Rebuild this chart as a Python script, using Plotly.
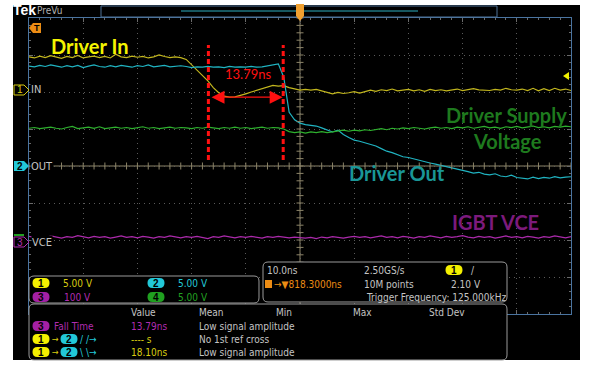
import plotly.graph_objects as go

W, H = 591, 368


def px(x):
    return x / W


def py(y):
    return 1 - y / H


# time base in ns (10 ns/div, trigger at the centre)
time_ns = [
    -50, -49, -48, -47, -46, -45, -44, -43, -42, -41,
    -40, -39, -38, -37, -36, -35, -34, -33, -32, -31,
    -30, -29, -28, -27, -26, -25, -24, -23, -22, -21,
    -20, -19, -18, -17, -16, -15, -14, -13, -12, -11,
    -10, -9, -8, -7, -6, -5, -4, -3, -2, -1,
    0, 1, 2, 3, 4, 5, 6, 7, 8, 9,
    10, 11, 12, 13, 14, 15, 16, 17, 18, 19,
    20, 21, 22, 23, 24, 25, 26, 27, 28, 29,
    30, 31, 32, 33, 34, 35, 36, 37, 38, 39,
    40, 41, 42, 43, 44, 45, 46, 47, 48, 49,
    50,
]

# screen positions in divisions (8 div vertical, centre = 0)
ch1_in = [
    2.95, 2.92, 2.97, 2.93, 2.98, 2.94, 2.91, 2.96, 2.93, 2.99,
    2.92, 2.95, 2.97, 2.93, 2.96, 2.92, 3.02, 2.95, 2.93, 2.97,
    2.94, 2.96, 2.92, 2.95, 3.00, 2.96, 2.93, 2.95, 2.93, 2.88,
    2.74, 2.60, 2.45, 2.30, 2.12, 1.98, 1.89, 1.86, 1.87, 1.90,
    1.95, 2.00, 2.05, 2.10, 2.14, 2.18, 2.16, 2.17, 2.12, 2.09,
    2.05, 2.07, 2.05, 2.07, 2.03, 1.99, 1.95, 1.99, 1.96, 1.98,
    2.01, 1.97, 2.01, 2.05, 2.02, 2.06, 2.04, 2.08, 2.03, 2.05,
    2.07, 2.03, 2.06, 2.02, 2.07, 2.04, 2.06, 2.03, 2.05, 2.08,
    2.04, 2.06, 2.09, 2.06, 2.05, 2.04, 2.07, 2.05, 2.10, 2.06,
    2.05, 2.08, 2.04, 2.10, 2.03, 2.09, 2.04, 2.10, 2.05, 2.08,
    2.04,
]
ch2_out = [
    2.70, 2.68, 2.72, 2.69, 2.73, 2.70, 2.67, 2.71, 2.68, 2.72,
    2.66, 2.70, 2.73, 2.69, 2.67, 2.71, 2.68, 2.72, 2.70, 2.67,
    2.71, 2.69, 2.73, 2.68, 2.70, 2.72, 2.68, 2.70, 2.71, 2.69,
    2.66, 2.68, 2.67, 2.69, 2.67, 2.68, 2.66, 2.69, 2.67, 2.68,
    2.67, 2.69, 2.67, 2.68, 2.70, 2.74, 2.76, 2.40, 1.45, 1.25,
    1.16, 1.12, 1.10, 1.08, 1.03, 0.98, 0.92, 0.97, 0.85, 0.77,
    0.70, 0.67, 0.63, 0.58, 0.54, 0.47, 0.40, 0.36, 0.30, 0.25,
    0.23, 0.19, 0.14, 0.11, 0.08, 0.05, 0.02, -0.01, -0.04, -0.07,
    -0.12, -0.15, -0.19, -0.17, -0.22, -0.24, -0.21, -0.27, -0.29, -0.25,
    -0.31, -0.33, -0.35, -0.30, -0.34, -0.31, -0.33, -0.29, -0.32, -0.30,
    -0.29,
]
ch4_supply = [
    1.02, 1.04, 1.01, 1.03, 1.05, 1.02, 1.00, 1.04, 1.07, 1.01,
    1.03, 1.05, 1.02, 1.06, 1.01, 1.03, 1.05, 1.02, 1.04, 1.01,
    1.03, 1.06, 1.02, 1.04, 1.01, 1.03, 1.05, 1.02, 1.04, 1.03,
    1.01, 1.04, 1.02, 1.05, 1.03, 1.01, 1.04, 1.02, 1.05, 1.02,
    1.04, 1.01, 1.03, 1.05, 1.02, 1.04, 1.03, 1.00, 0.93, 0.90,
    0.92, 0.89, 0.92, 0.90, 0.93, 0.90, 0.92, 0.95, 0.97, 0.94,
    0.97, 0.95, 0.98, 0.96, 0.99, 1.01, 0.98, 1.02, 1.00, 1.03,
    1.01, 1.04, 1.02, 1.00, 1.03, 1.05, 1.02, 1.04, 1.01, 1.05,
    1.03, 1.06, 1.02, 1.04, 1.07, 1.03, 1.05, 1.02, 1.06, 1.04,
    1.07, 1.03, 1.05, 1.08, 1.04, 1.06, 1.03, 1.07, 1.05, 1.08,
    1.06,
]
ch3_vce = [
    -1.90, -1.93, -1.91, -1.94, -1.89, -1.92, -1.95, -1.91, -1.93, -1.88,
    -1.92, -1.94, -1.90, -1.93, -1.91, -1.95, -1.92, -1.89, -1.93, -1.91,
    -1.94, -1.90, -1.92, -1.95, -1.91, -1.93, -1.89, -1.92, -1.94, -1.91,
    -1.93, -1.90, -1.92, -1.96, -1.91, -1.93, -1.89, -1.92, -1.94, -1.91,
    -1.93, -1.90, -1.92, -1.95, -1.91, -1.93, -1.90, -1.92, -1.94, -1.92,
    -1.93, -1.95, -1.93, -1.96, -1.92, -1.94, -1.91, -1.93, -1.95, -1.92,
    -1.90, -1.93, -1.91, -1.94, -1.92, -1.89, -1.93, -1.91, -1.94, -1.90,
    -1.92, -1.95, -1.91, -1.93, -1.89, -1.92, -1.94, -1.90, -1.93, -1.91,
    -1.88, -1.92, -1.94, -1.90, -1.93, -1.91, -1.95, -1.92, -1.89, -1.93,
    -1.91, -1.94, -1.90, -1.92, -1.95, -1.91, -1.93, -1.89, -1.92, -1.94,
    -1.91,
]

# cursor measurement drawn on the capture
cursor_t = [-16.9, -3.1]
cursor_text = "13.79ns"

UI = "DejaVu Sans Condensed, Liberation Sans Narrow, sans-serif"
UI_SIZE = 10
BIG = "Lato, Open Sans, sans-serif"
GRAY = "#c4c4c4"
YEL = "#d8cc10"
CYA = "#22c8d8"
MAG = "#b02cb0"
GRN = "#22a022"
ORG = "#ec8c14"

fig = go.Figure()

for vals, col in [(ch1_in, "#c2b61e"), (ch2_out, "#20b4c2"),
                  (ch4_supply, "#2eb02e"), (ch3_vce, "#ac2aac")]:
    fig.add_trace(go.Scatter(x=time_ns, y=vals, mode="lines",
                             line=dict(color=col, width=1.2),
                             hoverinfo="skip", showlegend=False))

# centre cross tick marks
tick_x = [-50 + 2 * i for i in range(51)]
tick_y = [-4 + 0.2 * i for i in range(41)]
fig.add_trace(go.Scatter(x=tick_x, y=[0] * len(tick_x), mode="markers",
                         marker=dict(symbol="line-ns", size=5, line=dict(color="#8c8468", width=1)),
                         hoverinfo="skip", showlegend=False))
fig.add_trace(go.Scatter(x=[0] * len(tick_y), y=tick_y, mode="markers",
                         marker=dict(symbol="line-ew", size=5, line=dict(color="#8c8468", width=1)),
                         hoverinfo="skip", showlegend=False))

shapes = []
ann = []


def poly(pts):
    return "M" + " L".join(f"{px(x):.5f},{py(y):.5f}" for x, y in pts) + " Z"


def rpath(x0, y0, x1, y1, r):
    p = lambda x, y: f"{px(x):.5f},{py(y):.5f}"
    return (f"M{p(x0 + r, y0)} L{p(x1 - r, y0)} Q{p(x1, y0)} {p(x1, y0 + r)} "
            f"L{p(x1, y1 - r)} Q{p(x1, y1)} {p(x1 - r, y1)} L{p(x0 + r, y1)} "
            f"Q{p(x0, y1)} {p(x0, y1 - r)} L{p(x0, y0 + r)} Q{p(x0, y0)} {p(x0 + r, y0)} Z")


def shape_path(path, fill=None, line=None, layer="above", width=1):
    shapes.append(dict(type="path", path=path, xref="paper", yref="paper", layer=layer,
                       fillcolor=fill if fill else "rgba(0,0,0,0)",
                       line=dict(color=line if line else "rgba(0,0,0,0)", width=width)))


def label(x, y, text, color, size=UI_SIZE, anchor="left", family=UI, bold=False, bg=None):
    d = dict(x=px(x), y=py(y), xref="paper", yref="paper", text=text, showarrow=False,
             xanchor=anchor, yanchor="middle", borderpad=0,
             font=dict(family=family, size=size, color=color, weight=700 if bold else 400))
    if bg:
        d["bgcolor"] = bg
    ann.append(d)


def pill(cx, cy, num, fill):
    shape_path(rpath(cx - 8.5, cy - 5, cx + 8.5, cy + 5, 5), fill=fill)
    label(cx, cy + 0.5, num, "black", size=10, anchor="center", family="Liberation Sans", bold=True)


# scope screen background
shapes.append(dict(type="rect", xref="paper", yref="paper", x0=px(13), x1=px(580),
                   y0=py(360), y1=py(5), fillcolor="black", line=dict(width=0), layer="below"))

# centre cross
shapes.append(dict(type="line", xref="x", yref="y", x0=-50, x1=50, y0=0, y1=0,
                   line=dict(color="#8c8468", width=1), layer="below"))
shapes.append(dict(type="line", xref="x", yref="y", x0=0, x1=0, y0=-4, y1=4,
                   line=dict(color="#8c8468", width=1), layer="below"))

# red cursors + arrow
for t in cursor_t:
    shapes.append(dict(type="line", xref="x", yref="y", x0=t, x1=t, y0=0.16, y1=3.27,
                       line=dict(color="#ff1010", width=3, dash="5px,3px"), layer="above"))
ann.append(dict(x=cursor_t[1] - 0.1, y=1.86, ax=cursor_t[0] + 0.3, ay=1.86, xref="x", yref="y",
                axref="x", ayref="y", text="", showarrow=True, arrowside="end+start",
                arrowhead=2, startarrowhead=2, arrowsize=2, startarrowsize=2,
                arrowwidth=1.3, arrowcolor="#ff1010", standoff=0, startstandoff=0))
ann.append(dict(x=-9.6, y=2.49, xref="x", yref="y", text=cursor_text, showarrow=False,
                font=dict(family=BIG, size=13, color="#ff1010")))

# top bar
label(12, 10, "Tek", "white", size=14, family="Liberation Sans", bold=True)
label(36, 10, "PreVu", "#b0b0b0", size=10)
shapes.append(dict(type="rect", xref="paper", yref="paper", x0=px(101), x1=px(497),
                   y0=py(17), y1=py(6), line=dict(color="#4f7398", width=1), layer="above"))
shapes.append(dict(type="line", xref="paper", yref="paper", x0=px(181), x1=px(418),
                   y0=py(11), y1=py(11), line=dict(color="#2eaec0", width=1), layer="above"))
shape_path(poly([(296, 4), (304, 4), (304, 16), (300, 21), (296, 16)]), fill="#f0a030")
shape_path(poly([(563, 76), (569, 72), (569, 80)]), fill="#f0f000")

# left markers
shape_path(poly([(29, 28), (33, 23), (41, 23), (41, 33), (33, 33)]), fill=ORG)
label(36.5, 28, "T", "black", size=9, anchor="center", family="Liberation Sans", bold=True)
shape_path(poly([(14, 85), (24, 85), (29, 90), (24, 95), (14, 95)]), fill="black", line=YEL)
label(19.5, 90, "1", YEL, size=10, anchor="center", family="Liberation Sans")
shape_path(poly([(14, 161), (24, 161), (29, 166), (24, 171), (14, 171)]), fill=CYA)
label(19.5, 166, "2", "black", size=10, anchor="center", family="Liberation Sans", bold=True)
shapes.append(dict(type="rect", xref="paper", yref="paper", x0=px(14), x1=px(24),
                   y0=py(236), y1=py(234), fillcolor=GRN, line=dict(width=0), layer="above"))
shape_path(poly([(14, 237), (24, 237), (29, 242), (24, 247), (14, 247)]), fill="black", line=MAG)
label(19.5, 242, "3", MAG, size=10, anchor="center", family="Liberation Sans")
label(30, 90, "IN", GRAY, size=11, bg="black")
label(30, 166, "OUT", GRAY, size=11, bg="black")
label(31, 242, "VCE", GRAY, size=11, bg="black")

# big labels
label(50, 46, "Driver In", "#f4f400", size=20, family=BIG, bold=True)
label(568, 115, "Driver Supply", "#1e7a1e", size=20, anchor="right", family=BIG, bold=True)
label(507, 141, "Voltage", "#1e7a1e", size=20, anchor="center", family=BIG, bold=True)
label(348, 173, "Driver Out", "#1a9696", size=20, family=BIG, bold=True)
label(451, 222, "IGBT VCE", "#7c1a7c", size=20, family=BIG, bold=True)

# channel scale box
shape_path(rpath(29, 276, 259, 303, 5), fill="black", line="#9a9a9a")
pill(41, 283, "1", "#f4f000")
label(62, 283, "5.00 V", YEL)
pill(156, 283, "2", CYA)
label(177, 283, "5.00 V", CYA)
pill(41, 297, "3", "#a420a4")
label(63, 297, "100 V", MAG)
pill(156, 297, "4", "#20a020")
label(177, 297, "5.00 V", GRN)

# horizontal / trigger box
shape_path(rpath(263, 262, 507, 302, 5), fill="black", line="#9a9a9a")
label(266, 270, "10.0ns", GRAY)
shapes.append(dict(type="rect", xref="paper", yref="paper", x0=px(265), x1=px(272),
                   y0=py(288), y1=py(280), fillcolor=ORG, line=dict(width=0), layer="above"))
label(273, 284, "→▼818.3000ns", ORG)
label(363, 270, "2.50GS/s", GRAY)
label(363, 284, "10M points", GRAY)
label(365, 297, "Trigger Frequency: 125.000kHz", GRAY)
pill(454, 270, "1", "#f4f000")
label(470, 270, "/", GRAY)
label(450, 284, "2.10 V", GRAY)

# measurement box
shape_path(rpath(29, 304, 507, 360, 5), fill="black", line="#9a9a9a")
for x, s in [(130, "Value"), (198, "Mean"), (275, "Min"), (352, "Max"), (428, "Std Dev")]:
    label(x, 312, s, GRAY)
pill(41, 326, "3", "#a420a4")
label(53, 326, "Fall Time", MAG)
label(130, 326, "13.79ns", MAG)
label(198, 326, "Low signal amplitude", GRAY)
pill(41, 339, "1", "#f4f000")
label(51, 339, "→", YEL, size=9)
pill(69, 339, "2", CYA)
label(79, 339, "/ /→", CYA)
label(130, 339, "---- s", YEL)
label(198, 339, "No 1st ref cross", GRAY)
pill(41, 352, "1", "#f4f000")
label(51, 352, "→", YEL, size=9)
pill(69, 352, "2", CYA)
label(79, 352, "\\ \\→", CYA)
label(130, 352, "18.10ns", YEL)
label(198, 352, "Low signal amplitude", GRAY)

axis_common = dict(showticklabels=False, showgrid=True, gridcolor="#5a5a5a", griddash="1px,4px",
                   gridwidth=1, zeroline=False, showline=True, linecolor="#4a74a0", linewidth=1,
                   mirror="allticks", ticks="inside", ticklen=4, tickcolor="#6a6a6a")

fig.update_layout(
    width=W, height=H, margin=dict(l=0, r=0, t=0, b=0),
    paper_bgcolor="white", plot_bgcolor="black", showlegend=False,
    xaxis=dict(domain=[px(29), px(571)], range=[-50, 50], dtick=10,
               minor=dict(dtick=2, ticklen=2, tickcolor="#6a6a6a", ticks="inside"), **axis_common),
    yaxis=dict(domain=[py(314), py(18)], range=[-4, 4], dtick=1,
               minor=dict(dtick=0.2, ticklen=2, tickcolor="#6a6a6a", ticks="inside"), **axis_common),
    shapes=shapes, annotations=ann,
)

fig.write_html("out.html", config={"displayModeBar": False},
               post_script="document.body.style.margin='0';")
